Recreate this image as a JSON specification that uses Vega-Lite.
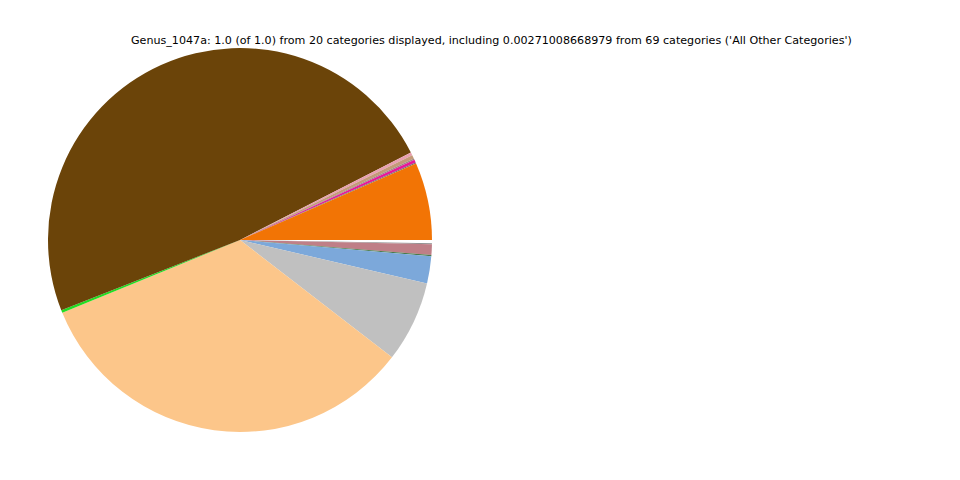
{
  "$schema": "https://vega.github.io/schema/vega-lite/v6.json",
  "width": 480,
  "height": 480,
  "padding": {"left": 0, "top": 0, "right": 480, "bottom": 0},
  "autosize": {"type": "none"},
  "background": "white",
  "title": {
    "text": "Genus_1047a: 1.0 (of 1.0) from 20 categories displayed, including 0.00271008668979 from 69 categories ('All Other Categories')",
    "anchor": "start",
    "frame": "group",
    "dx": 131,
    "dy": 56,
    "baseline": "middle",
    "font": "DejaVu Sans",
    "fontSize": 11.12,
    "fontWeight": "normal",
    "color": "#000000"
  },
  "data": {
    "values": [
      {"category": "All Other Categories", "fraction": 0.00271, "rank": 1, "colour": "#ffffff"},
      {"category": "Genus 19", "fraction": 0.0008, "rank": 2, "colour": "#8c8c8c"},
      {"category": "Genus 18", "fraction": 0.0089, "rank": 3, "colour": "#bf7f87"},
      {"category": "Genus 17", "fraction": 0.0011, "rank": 4, "colour": "#4a7a4a"},
      {"category": "Genus 16", "fraction": 0.0228, "rank": 5, "colour": "#7ca8da"},
      {"category": "Genus 15", "fraction": 0.0683, "rank": 6, "colour": "#c0c0c0"},
      {"category": "Genus 14", "fraction": 0.3335, "rank": 7, "colour": "#fcc68a"},
      {"category": "Genus 13", "fraction": 0.0022, "rank": 8, "colour": "#22dd22"},
      {"category": "Genus 12", "fraction": 0.4841, "rank": 9, "colour": "#6b4409"},
      {"category": "Genus 11", "fraction": 0.0025, "rank": 10, "colour": "#e8a0b0"},
      {"category": "Genus 10", "fraction": 0.0031, "rank": 11, "colour": "#c49a78"},
      {"category": "Genus 9", "fraction": 0.0011, "rank": 12, "colour": "#9a8a80"},
      {"category": "Genus 8", "fraction": 0.0025, "rank": 13, "colour": "#e6199a"},
      {"category": "Genus 7", "fraction": 0.0008, "rank": 14, "colour": "#707070"},
      {"category": "Genus 6", "fraction": 0.0653, "rank": 15, "colour": "#f27405"}
    ]
  },
  "mark": {"type": "arc", "outerRadius": 192, "stroke": null},
  "encoding": {
    "theta": {
      "field": "fraction",
      "type": "quantitative",
      "stack": true,
      "scale": {"range": [1.5707963, 7.8539816]}
    },
    "order": {"field": "rank", "type": "quantitative", "sort": "ascending"},
    "color": {
      "field": "colour",
      "type": "nominal",
      "scale": null,
      "legend": null
    }
  }
}
